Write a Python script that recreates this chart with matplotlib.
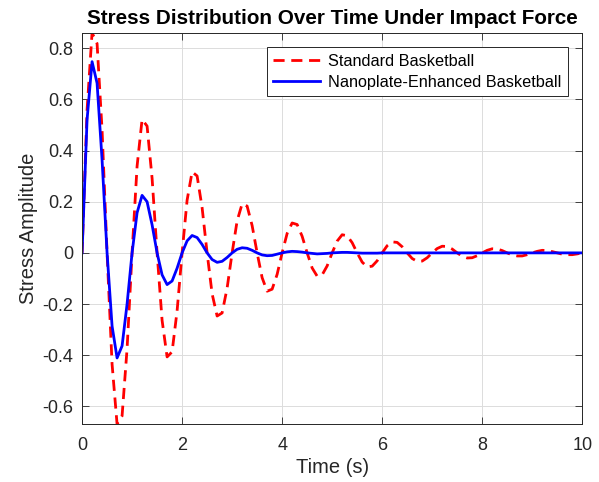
import numpy as np
import matplotlib
matplotlib.use("Agg")
import matplotlib.pyplot as plt
from matplotlib.ticker import FuncFormatter

plt.rcParams['font.family'] = ['Liberation Sans', 'DejaVu Sans']

# Time samples [s]
t = np.round(np.arange(0, 101) * 0.1, 1)

# Standard basketball stress
standard = [
    0.000, 0.559, 0.861, 0.819, 0.481, 0.000, -0.435, -0.670, -0.638, -0.375,
    0.000, 0.339, 0.522, 0.496, 0.292, 0.000, -0.264, -0.407, -0.387, -0.227,
    0.000, 0.206, 0.317, 0.301, 0.177, 0.000, -0.160, -0.247, -0.235, -0.138,
    0.000, 0.125, 0.192, 0.183, 0.107, 0.000, -0.097, -0.150, -0.142, -0.084,
    0.000, 0.076, 0.117, 0.111, 0.065, 0.000, -0.059, -0.091, -0.086, -0.051,
    0.000, 0.046, 0.071, 0.067, 0.040, 0.000, -0.036, -0.055, -0.052, -0.031,
    0.000, 0.028, 0.043, 0.041, 0.024, 0.000, -0.022, -0.033, -0.032, -0.019,
    0.000, 0.017, 0.026, 0.025, 0.015, 0.000, -0.013, -0.020, -0.019, -0.011,
    0.000, 0.010, 0.016, 0.015, 0.009, 0.000, -0.008, -0.012, -0.012, -0.007,
    0.000, 0.006, 0.010, 0.009, 0.005, 0.000, -0.005, -0.007, -0.007, -0.004,
    0.000,
]

# Nanoplate-enhanced basketball stress
nanoplate = [
    0.000, 0.521, 0.748, 0.664, 0.364, 0.000, -0.286, -0.411, -0.364, -0.200,
    0.000, 0.157, 0.225, 0.200, 0.110, 0.000, -0.086, -0.124, -0.110, -0.060,
    0.000, 0.047, 0.068, 0.060, 0.033, 0.000, -0.026, -0.037, -0.033, -0.018,
    0.000, 0.014, 0.020, 0.018, 0.010, 0.000, -0.008, -0.011, -0.010, -0.005,
    0.000, 0.004, 0.006, 0.005, 0.003, 0.000, -0.002, -0.004, -0.003, -0.002,
    0.000, 0.001, 0.002, 0.002, 0.001, 0.000, -0.001, -0.001, -0.001, -0.001,
    0.000, 0.000, 0.000, 0.000, 0.000, 0.000, 0.000, 0.000, 0.000, 0.000,
    0.000, 0.000, 0.000, 0.000, 0.000, 0.000, 0.000, 0.000, 0.000, 0.000,
    0.000, 0.000, 0.000, 0.000, 0.000, 0.000, 0.000, 0.000, 0.000, 0.000,
    0.000, 0.000, 0.000, 0.000, 0.000, 0.000, 0.000, 0.000, 0.000, 0.000,
    0.000,
]

x_ticks = [0, 2, 4, 6, 8, 10]
y_ticks = [-0.6, -0.4, -0.2, 0, 0.2, 0.4, 0.6, 0.8]

fig = plt.figure(figsize=(5.99, 4.82), dpi=100)
ax = fig.add_axes([0.137, 0.120, 0.835, 0.812])

ax.plot(t, standard, color='red', linewidth=2, dashes=(4, 2.4),
        label='Standard Basketball')
ax.plot(t, nanoplate, '-', color='blue', linewidth=2,
        label='Nanoplate-Enhanced Basketball')

ax.set_xlim(0, 10)
ax.set_ylim(min(standard), max(standard))
ax.set_xticks(x_ticks)
ax.set_yticks(y_ticks)
ax.yaxis.set_major_formatter(FuncFormatter(lambda v, p: '0' if abs(v) < 1e-9 else f'{v:g}'))

ax.grid(True, color='#dcdcdc', linewidth=0.7)
ax.set_axisbelow(True)
ax.tick_params(direction='in', top=True, right=True, labelsize=13,
               colors='#262626', length=5, width=0.6)
ax.tick_params(axis='x', pad=9)
ax.tick_params(axis='y', pad=6.5)
for s in ax.spines.values():
    s.set_color('#262626')
    s.set_linewidth(0.7)

ax.set_xlabel('Time (s)', fontsize=14.5, color='#262626', labelpad=3)
ax.set_ylabel('Stress Amplitude', fontsize=14.5, color='#262626', labelpad=3)
ax.set_title('Stress Distribution Over Time Under Impact Force',
             fontsize=14.9, fontweight='bold', pad=6)

leg = ax.legend(loc='upper right', fontsize=11.7, fancybox=False, framealpha=1,
                edgecolor='#262626', borderaxespad=0.9, handlelength=2.9,
                handletextpad=0.45, labelspacing=0.35)
leg.get_frame().set_linewidth(0.7)

fig.savefig('out.png', dpi=100)
